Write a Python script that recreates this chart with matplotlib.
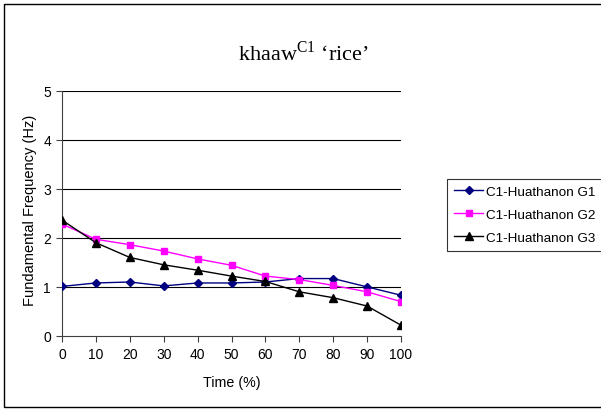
import matplotlib
matplotlib.use("Agg")
import matplotlib.pyplot as plt
from matplotlib.patches import Rectangle

time_pct = [0, 10, 20, 30, 40, 50, 60, 70, 80, 90, 100]
g1 = [1.01, 1.08, 1.10, 1.02, 1.08, 1.08, 1.10, 1.17, 1.17, 1.00, 0.83]
g2 = [2.28, 1.97, 1.86, 1.73, 1.57, 1.44, 1.22, 1.15, 1.03, 0.90, 0.70]
g3 = [2.36, 1.90, 1.60, 1.45, 1.34, 1.22, 1.11, 0.90, 0.78, 0.61, 0.22]
labels = ["C1-Huathanon G1", "C1-Huathanon G2", "C1-Huathanon G3"]
yticks = [0, 1, 2, 3, 4, 5]

plt.rcParams['font.family'] = ['Liberation Sans', 'DejaVu Sans']
plt.rcParams['mathtext.fontset'] = 'custom'
plt.rcParams['mathtext.rm'] = 'Liberation Serif'

W, H = 601, 410
fig = plt.figure(figsize=(W / 100, H / 100), dpi=100)
fig.patch.set_facecolor('white')

fig.patches.append(Rectangle((4 / W, 2 / H), 1.0, (408 - 5) / H, transform=fig.transFigure,
                             fill=False, edgecolor='black', linewidth=1.0))

ax_w = 401 - 62
ax_h = 337 - 91.5
ax = fig.add_axes([62 / W, 1 - 337 / H, ax_w / W, ax_h / H])
ax.set_xlim(0, 100)
ax.set_ylim(0, 5)

for v in yticks[1:]:
    ax.axhline(v, color='black', linewidth=0.8, zorder=1)

ax.plot(time_pct, g1, color='#000080', marker='D', markersize=4.5, linewidth=1.0,
        label=labels[0], zorder=3)
ax.plot(time_pct, g2, color='#FF00FF', marker='s', markersize=5, linewidth=1.0,
        label=labels[1], zorder=3)
ax.plot(time_pct, g3, color='black', marker='^', markersize=5.5, linewidth=1.0,
        label=labels[2], zorder=3)

for s in ['top', 'right']:
    ax.spines[s].set_visible(False)
for s in ['left', 'bottom']:
    ax.spines[s].set_color('#404040')
    ax.spines[s].set_linewidth(0.8)
ax.set_xticks(time_pct)
ax.set_yticks(yticks)
ax.tick_params(axis='both', direction='out', length=4, width=0.8, color='#404040',
               labelsize=10, pad=4)
ax.set_xlabel('Time (%)', fontsize=10.3, labelpad=10)
ax.set_ylabel('Fundamental Frequency (Hz)', fontsize=10.5)
ax.yaxis.set_label_coords(-(62 - 37) / ax_w, (337 - 210) / ax_h)

fig.text(303 / W, 1 - 53 / H, r"khaaw$^{\mathrm{C1}}$ ‘rice’", ha='center', va='center',
         fontsize=16, family='Liberation Serif')

leg = fig.legend(loc='upper left', bbox_to_anchor=(447 / W, 1 - 180 / H),
                 bbox_transform=fig.transFigure, fontsize=9.7, frameon=True,
                 fancybox=False, edgecolor='black', borderpad=0.5, labelspacing=0.78,
                 handlelength=2.2, handletextpad=0.2, borderaxespad=0)
leg.get_frame().set_linewidth(0.8)

fig.savefig('out.png', dpi=100)
